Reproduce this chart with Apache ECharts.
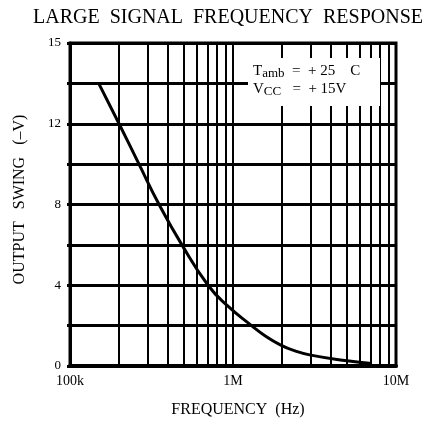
<!DOCTYPE html>
<html>
<head>
<meta charset="utf-8">
<script src="https://cdn.jsdelivr.net/npm/echarts@6/dist/echarts.min.js"></script>
<style>
  html, body { margin: 0; padding: 0; background: #fff; }
  #main { width: 435px; height: 423px; }
</style>
</head>
<body>
<div id="main"></div>
<script>
// curve (Hz, -V)
const freq = [150e3, 200e3, 265e3, 352e3, 486e3, 703e3, 920e3, 1.3e6, 1.57e6, 1.95e6, 2.4e6, 3e6, 5e6, 7.1e6];
const swing = [14, 12, 10, 8, 6, 4, 3, 2, 1.5, 1.05, 0.75, 0.54, 0.26, 0.12];

// minor log grid lines 2..9 in each decade
const minorFreq = [2e5, 3e5, 4e5, 5e5, 6e5, 7e5, 8e5, 9e5, 2e6, 3e6, 4e6, 5e6, 6e6, 7e6, 8e6, 9e6];

const xTickLabels = { 100000: '100k', 1000000: '1M', 10000000: '10M' };
// the sheet prints "15" at the top grid line
const yTickLabels = { 0: '0', 4: '4', 8: '8', 12: '12', 16: '15' };

const serif = '"Liberation Serif", "DejaVu Serif", serif';

const chart = echarts.init(document.getElementById('main'), null, { renderer: 'canvas' });

var option = {
  backgroundColor: '#fff',
  animation: false,
  title: {
    text: 'LARGE  SIGNAL  FREQUENCY  RESPONSE',
    left: 28,
    top: 3,
    textStyle: { fontFamily: serif, fontSize: 20, fontWeight: 'normal', color: '#000' }
  },
  grid: {
    left: 70, right: 39, top: 43, bottom: 56,
    show: true,
    borderColor: '#000',
    borderWidth: 3
  },
  xAxis: {
    type: 'log',
    logBase: 10,
    min: 1e5,
    max: 1e7,
    name: 'FREQUENCY  (Hz)',
    nameLocation: 'middle',
    nameGap: 36,
    nameTextStyle: { fontFamily: serif, fontSize: 16, color: '#000', padding: [0, 0, 0, 10] },
    axisLine: { lineStyle: { color: '#000', width: 4 } },
    axisTick: { show: false },
    axisLabel: {
      fontFamily: serif, fontSize: 14, color: '#000', margin: 8,
      formatter: function (v) { return xTickLabels[Math.round(v)] || ''; }
    },
    splitLine: { show: true, lineStyle: { color: '#000', width: 2 } }
  },
  yAxis: {
    type: 'value',
    min: 0,
    max: 16,
    interval: 2,
    name: 'OUTPUT   SWING   (–V)',
    nameLocation: 'middle',
    nameGap: 42,
    nameRotate: 90,
    nameTextStyle: { fontFamily: serif, fontSize: 16, color: '#000', padding: [0, 0, 0, 10] },
    axisLine: { lineStyle: { color: '#000', width: 3 } },
    axisTick: { show: true, length: 3, lineStyle: { color: '#000', width: 3 } },
    axisLabel: {
      fontFamily: serif, fontSize: 13, color: '#000', margin: 9,
      formatter: function (v) { return yTickLabels[v] !== undefined ? yTickLabels[v] : ''; }
    },
    splitLine: { show: true, lineStyle: { color: '#000', width: 3 } }
  },
  series: [
    {
      type: 'line',
      data: [],
      silent: true,
      markLine: {
        silent: true,
        symbol: 'none',
        label: { show: false },
        lineStyle: { color: '#000', width: 2, type: 'solid' },
        data: minorFreq.map(function (f) { return { xAxis: f }; })
      }
    },
    {
      type: 'line',
      smooth: 0.5,
      symbol: 'none',
      z: 5,
      lineStyle: { color: '#000', width: 3 },
      data: freq.map(function (f, i) { return [f, swing[i]]; })
    }
  ],
  graphic: [
    {
      type: 'rect',
      z: 100,
      shape: { x: 248, y: 58, width: 132, height: 48 },
      style: { fill: '#fff' }
    },
    {
      type: 'text',
      z: 101,
      left: 253,
      top: 61,
      style: {
        text: '{n|T}{s|amb}{n|  =  + 25    C}\n{n|V}{s|CC}{n|   =  + 15V}',
        fill: '#000',
        rich: {
          n: { fontFamily: serif, fontSize: 15, lineHeight: 18, verticalAlign: 'middle' },
          s: { fontFamily: serif, fontSize: 13, lineHeight: 18, verticalAlign: 'bottom', padding: [6, 0, 0, 0] }
        }
      }
    }
  ]
};

chart.setOption(option);
</script>
</body>
</html>
